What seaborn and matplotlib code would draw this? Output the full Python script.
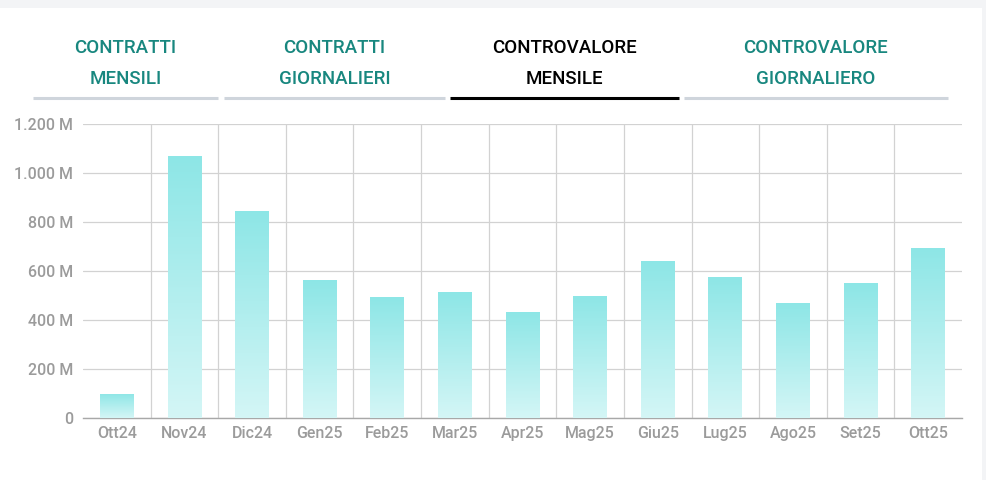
import numpy as np
import pandas as pd
import matplotlib
import matplotlib.pyplot as plt
import seaborn as sns
from matplotlib.colors import LinearSegmentedColormap
from matplotlib.ticker import FixedLocator

matplotlib.use('Agg')

# Data (million EUR)
months = ['Ott24', 'Nov24', 'Dic24', 'Gen25', 'Feb25', 'Mar25', 'Apr25',
          'Mag25', 'Giu25', 'Lug25', 'Ago25', 'Set25', 'Ott25']
values = [100, 1070, 845, 563, 493, 513, 433, 498, 640, 577, 471, 551, 695]

y_ticks = [0, 200, 400, 600, 800, 1000, 1200]
y_tick_labels = ['0', '200 M', '400 M', '600 M', '800 M', '1.000 M', '1.200 M']

tabs = ['CONTRATTI\nMENSILI', 'CONTRATTI\nGIORNALIERI',
        'CONTROVALORE\nMENSILE', 'CONTROVALORE\nGIORNALIERO']
active_tab = 2

teal = '#18877f'
grey_txt = '#9b9b9b'

sns.set_style('white')
plt.rcParams['font.family'] = ['Roboto', 'DejaVu Sans']

fig = plt.figure(figsize=(9.87, 4.8), dpi=100)
fig.patch.set_facecolor('#f3f4f6')
# white card behind everything
card = plt.Rectangle((0, 0), 982 / 987, 1 - 8 / 480, transform=fig.transFigure,
                     facecolor='white', edgecolor='none', zorder=-10)
fig.patches.append(card)

ax = fig.add_axes([83 / 987, 1 - 418 / 480, (962 - 83) / 987, (418 - 124) / 480])
ax.set_facecolor('none')

df = pd.DataFrame({'month': months, 'value': values})
sns.barplot(data=df, x='month', y='value', ax=ax, width=0.5, color='#8ee6e6',
            saturation=1, zorder=3)

# gradient fill inside each bar
cmap = LinearSegmentedColormap.from_list('bar', ['#d4f6f6', '#8de6e6'])
grad = np.linspace(0, 1, 256).reshape(-1, 1)
for p in ax.patches:
    x0, y0 = p.get_x(), p.get_y()
    w, h = p.get_width(), p.get_height()
    im = ax.imshow(grad, cmap=cmap, origin='lower', aspect='auto',
                   extent=(x0, x0 + w, y0, y0 + h), zorder=3)
    im.set_clip_path(p)
    p.set_facecolor('none')
    p.set_edgecolor('none')

ax.set_xlim(-0.5, len(months) - 0.5)
ax.set_ylim(0, 1200)
ax.yaxis.set_major_locator(FixedLocator(y_ticks))
ax.set_yticklabels(y_tick_labels)
ax.xaxis.set_minor_locator(FixedLocator(np.arange(0.5, len(months) - 1, 1)))
ax.grid(axis='y', which='major', color='#d2d2d2', linewidth=0.9, zorder=0)
ax.grid(axis='x', which='minor', color='#d2d2d2', linewidth=0.9, zorder=0)
ax.grid(axis='x', which='major', visible=False)
ax.set_axisbelow(True)

for s in ['top', 'right', 'left']:
    ax.spines[s].set_visible(False)
ax.spines['bottom'].set_color('#a8a8a8')
ax.spines['bottom'].set_linewidth(1.0)
ax.tick_params(axis='both', which='both', length=0, colors=grey_txt,
               labelsize=11.5)
ax.tick_params(axis='y', pad=7)
ax.tick_params(axis='x', pad=6)
for lbl in ax.get_xticklabels() + ax.get_yticklabels():
    lbl.set_fontweight('medium')
ax.set_xlabel('')
ax.set_ylabel('')

# tab header
tab_spans = [(33, 218), (224, 445), (450, 679), (684, 948)]
for i, (label, (a, b)) in enumerate(zip(tabs, tab_spans)):
    active = i == active_tab
    cx = (a + b) / 2 / 987
    fig.text(cx, 1 - 63.5 / 480, label, ha='center', va='center',
             color='black' if active else teal, fontsize=13.5,
             fontweight='medium', linespacing=1.95)
    fig.add_artist(plt.Line2D([a / 987, b / 987], [1 - 97.5 / 480] * 2,
                              color='black' if active else '#cfd5dc',
                              linewidth=2.2, solid_capstyle='butt'))

fig.savefig('out.png', dpi=100)
plt.close(fig)
